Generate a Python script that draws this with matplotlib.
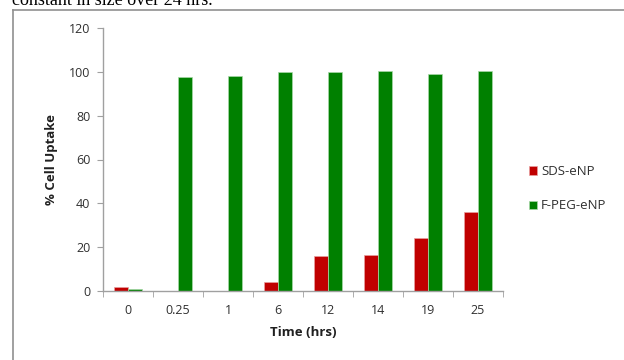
import matplotlib
matplotlib.use("Agg")
import matplotlib.pyplot as plt
import numpy as np
from matplotlib.lines import Line2D

categories = ["0", "0.25", "1", "6", "12", "14", "19", "25"]
sds_values = [1.7, 0, 0, 4.1, 16, 16.5, 24, 36]
peg_values = [1.0, 97.5, 98.2, 99.7, 99.7, 100.3, 99.1, 100.3]
series_names = ["SDS-eNP", "F-PEG-eNP"]
yticks = [0, 20, 40, 60, 80, 100, 120]

plt.rcParams['font.family'] = ['Open Sans', 'DejaVu Sans']

fig = plt.figure(figsize=(6.24, 3.6), dpi=100)
ax = fig.add_axes([103/624, 1-291/360, 400/624, 263/360])

x = np.arange(len(categories))
w = 0.2857
ax.bar(x - w/2, sds_values, w, color="#C00000", edgecolor="#e8a0a0", linewidth=0.5, label=series_names[0])
ax.bar(x + w/2, peg_values, w, color="#008000", edgecolor="#a8d8a8", linewidth=0.5, label=series_names[1])

ax.set_xlim(-0.5, len(categories) - 0.5)
ax.set_ylim(0, 120)
ax.set_yticks(yticks)
ax.set_yticklabels([str(t) for t in yticks], fontsize=9, color="#303030")
ax.set_xticks(x)
ax.set_xticklabels(categories, fontsize=9, color="#303030")
ax.set_xticks(np.arange(len(categories) + 1) - 0.5, minor=True)
ax.tick_params(axis='x', which='major', length=0, pad=9)
ax.tick_params(axis='x', which='minor', length=4, color="#a0a0a0", direction='out')
ax.tick_params(axis='y', length=4, color="#a0a0a0", pad=5)

for s in ["top", "right"]:
    ax.spines[s].set_visible(False)
for s in ["left", "bottom"]:
    ax.spines[s].set_color("#a0a0a0")
    ax.spines[s].set_linewidth(1.0)

ax.set_ylabel("% Cell Uptake", fontsize=9.5, fontweight="bold", color="#202020", labelpad=8)
ax.set_xlabel("Time (hrs)", fontsize=9.5, fontweight="bold", color="#202020", labelpad=7)

leg = ax.legend(loc="upper left", bbox_to_anchor=(524/624, 1-160/360), bbox_transform=fig.transFigure,
                frameon=False, fontsize=9.5, handlelength=0.6, handleheight=0.6, handletextpad=0.3,
                labelspacing=1.6, borderaxespad=0)
for t in leg.get_texts():
    t.set_color("#303030")

# page frame and caption fragment
fig.add_artist(Line2D([12.5/624, 12.5/624], [0, 1-10/360], transform=fig.transFigure, color="#909090", linewidth=1.2))
fig.add_artist(Line2D([12.5/624, 1], [1-9.5/360, 1-9.5/360], transform=fig.transFigure, color="#909090", linewidth=1.2))
fig.text(12/624, 1-5/360, "constant in size over 24 hrs.", fontsize=13, family=["Liberation Serif"],
         va="baseline", ha="left", color="black")

fig.savefig("out.png", dpi=100)
